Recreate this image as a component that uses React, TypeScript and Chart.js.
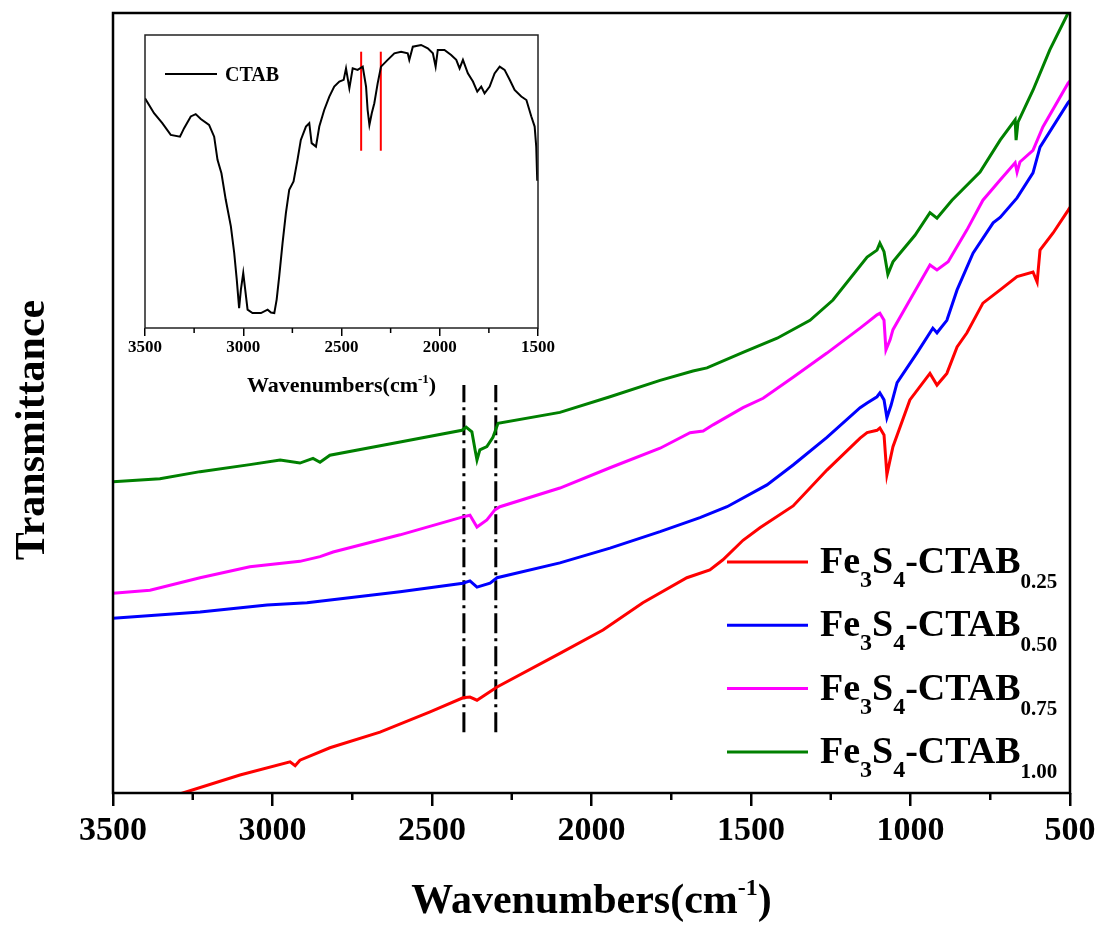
import React, { useEffect, useRef } from "react";
import { Chart, registerables } from "chart.js";

Chart.register(...registerables);

const FONT = "'Liberation Serif', 'Times New Roman', serif";

// ---- Main spectra (wavenumber cm-1, transmittance a.u.) ----
const wn025 = [3500, 3281, 3102, 2945, 2929, 2914, 2820, 2663, 2506, 2403, 2381, 2359, 2296, 2099, 1964, 1839, 1701, 1629, 1588, 1525, 1472, 1368, 1262, 1158, 1136, 1105, 1096, 1083, 1074, 1064, 1055, 1002, 939, 917, 886, 854, 823, 773, 719, 666, 616, 603, 594, 553, 506, 500];
const t025 = [-2.8, 0, 2.3, 4.0, 3.5, 4.2, 5.8, 7.8, 10.4, 12.2, 12.3, 11.9, 13.6, 17.9, 20.9, 24.4, 27.6, 28.6, 29.9, 32.4, 34.0, 36.8, 41.4, 45.5, 46.2, 46.5, 46.8, 45.9, 40.8, 42.7, 44.4, 50.4, 53.8, 52.3, 53.8, 57.2, 59.0, 62.8, 64.5, 66.2, 66.8, 65.5, 69.6, 71.8, 74.7, 75.1];

const wn050 = [3500, 3227, 3017, 2892, 2600, 2403, 2381, 2359, 2318, 2296, 2099, 1942, 1785, 1660, 1575, 1450, 1368, 1262, 1158, 1136, 1105, 1096, 1083, 1074, 1061, 1042, 980, 930, 917, 886, 854, 804, 741, 719, 666, 616, 594, 506, 500];
const t050 = [22.4, 23.2, 24.1, 24.4, 25.8, 26.9, 27.2, 26.4, 26.9, 27.6, 29.5, 31.4, 33.5, 35.3, 36.7, 39.5, 42.05, 45.6, 49.4, 50.0, 50.8, 51.3, 50.4, 48.1, 49.7, 52.6, 56.4, 59.6, 59.0, 60.6, 64.5, 69.2, 73.1, 73.8, 76.3, 79.5, 82.8, 88.5, 88.8];

const wn075 = [3500, 3384, 3227, 3071, 2914, 2851, 2810, 2600, 2403, 2381, 2359, 2328, 2303, 2287, 2099, 1942, 1785, 1691, 1650, 1619, 1525, 1462, 1368, 1262, 1158, 1136, 1105, 1096, 1083, 1077, 1064, 1055, 1002, 939, 917, 882, 823, 773, 719, 672, 666, 657, 616, 585, 506, 500];
const t075 = [25.6, 26.0, 27.6, 29.0, 29.7, 30.3, 30.9, 33.1, 35.4, 35.6, 34.1, 35.0, 36.3, 36.7, 39.1, 41.7, 44.2, 46.2, 46.4, 47.2, 49.4, 50.6, 53.3, 56.4, 59.6, 60.3, 61.3, 61.5, 60.6, 56.8, 58.1, 59.4, 63.2, 67.7, 67.05, 68.1, 72.2, 76.0, 78.6, 80.8, 79.6, 80.9, 82.4, 85.4, 91.0, 91.3];

const wn100 = [3500, 3353, 3227, 3071, 2976, 2914, 2873, 2851, 2820, 2600, 2406, 2393, 2375, 2365, 2359, 2350, 2328, 2309, 2293, 2099, 1942, 1785, 1682, 1638, 1525, 1418, 1315, 1243, 1136, 1105, 1096, 1083, 1071, 1055, 1033, 986, 939, 917, 870, 782, 719, 672, 669, 663, 616, 563, 506, 500];
const t100 = [39.9, 40.3, 41.2, 42.1, 42.7, 42.3, 42.9, 42.4, 43.3, 45.0, 46.5, 46.9, 46.3, 44.0, 42.7, 44.0, 44.4, 45.6, 47.4, 48.8, 50.8, 52.9, 54.1, 54.5, 56.5, 58.3, 60.6, 63.2, 68.7, 69.6, 70.5, 69.4, 66.5, 68.1, 69.2, 71.5, 74.4, 73.7, 76.0, 79.6, 83.7, 86.3, 83.7, 86.0, 90.1, 95.3, 100, 100.4];

// dash-dot marker lines
const markerWn = [2400, 2300];
const markerRange = [7.8, 52.3];

// ---- Inset: CTAB spectrum ----
const wnCTAB = [3500, 3454, 3412, 3369, 3322, 3301, 3267, 3242, 3216, 3174, 3148, 3131, 3111, 3089, 3063, 3046, 3033, 3021, 3012, 3000, 2992, 2978, 2953, 2910, 2876, 2859, 2842, 2830, 2817, 2800, 2783, 2766, 2744, 2724, 2707, 2681, 2664, 2652, 2630, 2613, 2588, 2562, 2537, 2511, 2489, 2477, 2460, 2443, 2418, 2392, 2375, 2367, 2358, 2346, 2333, 2316, 2299, 2265, 2231, 2197, 2163, 2155, 2137, 2095, 2061, 2035, 2021, 2010, 1976, 1942, 1916, 1899, 1882, 1857, 1831, 1809, 1789, 1772, 1746, 1721, 1695, 1670, 1644, 1619, 1585, 1559, 1534, 1517, 1509, 1504, 1500];
const tCTAB = [78.4, 73.3, 69.9, 65.9, 65.3, 68.2, 72.2, 73.0, 71.3, 69.3, 65.3, 57.4, 52.8, 43.75, 34.7, 25.6, 16.5, 6.8, 13.1, 18.75, 14.2, 6.25, 5.1, 5.1, 6.25, 5.3, 5.1, 9.7, 17.6, 29.0, 39.2, 47.2, 50.0, 57.4, 64.2, 68.75, 69.9, 63.1, 61.9, 68.75, 74.4, 79.0, 82.4, 84.1, 84.7, 88.6, 81.8, 88.6, 88.1, 89.2, 82.4, 74.4, 69.3, 73.3, 76.7, 83.5, 89.2, 91.5, 93.75, 94.3, 93.75, 91.5, 96.0, 96.6, 95.45, 93.75, 89.2, 94.9, 94.9, 93.2, 91.5, 88.6, 91.5, 86.9, 84.1, 80.7, 82.4, 80.1, 82.4, 86.9, 89.2, 88.1, 84.7, 81.25, 79.0, 77.8, 72.2, 68.75, 61.9, 50.6, 50.6];
const insetMarkerWn = [2400, 2300];
const insetMarkerRange = [60.5, 94.3];

// ---- Labels ----
const seriesColors = ["#FF0000", "#0000FF", "#FF00FF", "#008000"];
const seriesSubs = ["0.25", "0.50", "0.75", "1.00"];
const xTitleMain = "Wavenumbers(cm";
const xTitleSup = "-1";
const yTitle = "Transmittance";
const insetLegend = "CTAB";

const pts = (xs: number[], ys: number[]) => xs.map((x, i) => ({ x, y: ys[i] }));

type Part = { t: string; size: number; dy?: number };

function partsWidth(ctx: CanvasRenderingContext2D, parts: Part[]) {
  let w = 0;
  for (const p of parts) {
    ctx.font = `bold ${p.size}px ${FONT}`;
    w += ctx.measureText(p.t).width;
  }
  return w;
}

function drawParts(ctx: CanvasRenderingContext2D, x: number, y: number, parts: Part[]) {
  ctx.textAlign = "left";
  ctx.textBaseline = "alphabetic";
  ctx.fillStyle = "#000";
  let cx = x;
  for (const p of parts) {
    ctx.font = `bold ${p.size}px ${FONT}`;
    ctx.fillText(p.t, cx, y + (p.dy || 0));
    cx += ctx.measureText(p.t).width;
  }
}

function minorTicks(ctx: CanvasRenderingContext2D, chart: any, values: number[], len: number, lw: number) {
  const xs = chart.scales.x;
  const bottom = chart.chartArea.bottom;
  ctx.save();
  ctx.strokeStyle = "#000";
  ctx.lineWidth = lw;
  for (const v of values) {
    const px = xs.getPixelForValue(v);
    ctx.beginPath();
    ctx.moveTo(px, bottom);
    ctx.lineTo(px, bottom + len);
    ctx.stroke();
  }
  ctx.restore();
}

const mainDecor = {
  id: "mainDecor",
  afterDatasetsDraw(chart: any) {
    const { ctx, chartArea: a } = chart;
    ctx.save();
    ctx.strokeStyle = "#000";
    ctx.lineWidth = 2.5;
    ctx.strokeRect(a.left, a.top, a.right - a.left, a.bottom - a.top);
    ctx.restore();
  },
  afterDraw(chart: any) {
    const { ctx, chartArea: a } = chart;
    minorTicks(ctx, chart, [3250, 2750, 2250, 1750, 1250, 750], 7, 2.5);
    ctx.save();
    // x title
    const tparts: Part[] = [
      { t: xTitleMain, size: 42 },
      { t: xTitleSup, size: 24, dy: -18 },
      { t: ")", size: 42 },
    ];
    const w = partsWidth(ctx, tparts);
    drawParts(ctx, (a.left + a.right) / 2 - w / 2, 913, tparts);
    // y title
    ctx.save();
    ctx.translate(44, 430);
    ctx.rotate(-Math.PI / 2);
    ctx.font = `bold 42px ${FONT}`;
    ctx.textAlign = "center";
    ctx.textBaseline = "alphabetic";
    ctx.fillStyle = "#000";
    ctx.fillText(yTitle, 0, 0);
    ctx.restore();
    // legend
    seriesColors.forEach((c, i) => {
      const ly = 562 + i * 63.3;
      ctx.strokeStyle = c;
      ctx.lineWidth = 3;
      ctx.beginPath();
      ctx.moveTo(727, ly);
      ctx.lineTo(808, ly);
      ctx.stroke();
      drawParts(ctx, 820, ly + 11, [
        { t: "Fe", size: 38 },
        { t: "3", size: 24, dy: 14 },
        { t: "S", size: 38 },
        { t: "4", size: 24, dy: 14 },
        { t: "-CTAB", size: 38 },
        { t: seriesSubs[i], size: 21, dy: 15 },
      ]);
    });
    ctx.restore();
  },
};

const insetDecor = {
  id: "insetDecor",
  afterDatasetsDraw(chart: any) {
    const { ctx, chartArea: a } = chart;
    ctx.save();
    ctx.strokeStyle = "#222";
    ctx.lineWidth = 1.5;
    ctx.strokeRect(a.left, a.top, a.right - a.left, a.bottom - a.top);
    ctx.restore();
  },
  afterDraw(chart: any) {
    const { ctx, chartArea: a } = chart;
    minorTicks(ctx, chart, [3250, 2750, 2250, 1750], 5, 1.5);
    ctx.save();
    const tparts: Part[] = [
      { t: xTitleMain, size: 22 },
      { t: xTitleSup, size: 13, dy: -9 },
      { t: ")", size: 22 },
    ];
    const w = partsWidth(ctx, tparts);
    drawParts(ctx, (a.left + a.right) / 2 - w / 2, 392, tparts);
    // legend
    ctx.strokeStyle = "#000";
    ctx.lineWidth = 2;
    ctx.beginPath();
    ctx.moveTo(65, 74);
    ctx.lineTo(117, 74);
    ctx.stroke();
    drawParts(ctx, 125, 81, [{ t: insetLegend, size: 20 }]);
    ctx.restore();
  },
};

export default function App() {
  const mainRef = useRef<HTMLCanvasElement>(null);
  const insetRef = useRef<HTMLCanvasElement>(null);

  useEffect(() => {
    const line = (data: any, color: string, width: number, dash?: number[]) => ({
      data,
      borderColor: color,
      backgroundColor: color,
      borderWidth: width,
      pointRadius: 0,
      tension: 0,
      fill: false,
      borderDash: dash || [],
    });

    const markers = markerWn.map((w) =>
      line(markerRange.map((y) => ({ x: w, y })), "#000", 3, [20, 5, 3, 5])
    );

    const main = new Chart(mainRef.current!, {
      type: "line",
      data: {
        datasets: [
          line(pts(wn025, t025), seriesColors[0], 3),
          line(pts(wn050, t050), seriesColors[1], 3),
          line(pts(wn075, t075), seriesColors[2], 3),
          line(pts(wn100, t100), seriesColors[3], 3),
          ...markers,
        ],
      },
      options: {
        animation: false,
        responsive: false,
        devicePixelRatio: 1,
        layout: { padding: { left: 113, top: 13, right: 33, bottom: 0 } },
        plugins: { legend: { display: false }, tooltip: { enabled: false } },
        scales: {
          x: {
            type: "linear",
            reverse: true,
            min: 500,
            max: 3500,
            afterFit: (s: any) => {
              s.height = 132;
            },
            border: { display: false },
            grid: { drawOnChartArea: false, drawTicks: true, tickLength: 13, lineWidth: 2.5, color: "#000" },
            ticks: {
              stepSize: 500,
              padding: 5,
              color: "#000",
              maxRotation: 0,
              autoSkip: false,
              font: { family: FONT, size: 34, weight: "bold" },
              callback: (v: any) => String(v),
            },
          },
          y: { display: false, min: 0, max: 100 },
        },
      } as any,
      plugins: [mainDecor],
    });

    const insetMarkers = insetMarkerWn.map((w) =>
      line(insetMarkerRange.map((y) => ({ x: w, y })), "#FF0000", 2)
    );

    const inset = new Chart(insetRef.current!, {
      type: "line",
      data: {
        datasets: [line(pts(wnCTAB, tCTAB), "#000", 2), ...insetMarkers],
      },
      options: {
        animation: false,
        responsive: false,
        devicePixelRatio: 1,
        layout: { padding: { left: 45, top: 35, right: 42, bottom: 0 } },
        plugins: { legend: { display: false }, tooltip: { enabled: false } },
        scales: {
          x: {
            type: "linear",
            reverse: true,
            min: 1500,
            max: 3500,
            afterFit: (s: any) => {
              s.height = 82;
            },
            border: { display: false },
            grid: { drawOnChartArea: false, drawTicks: true, tickLength: 8, lineWidth: 1.5, color: "#000" },
            ticks: {
              stepSize: 500,
              padding: 1,
              color: "#000",
              maxRotation: 0,
              autoSkip: false,
              font: { family: FONT, size: 17, weight: "bold" },
              callback: (v: any) => String(v),
            },
          },
          y: { display: false, min: 0, max: 100 },
        },
      } as any,
      plugins: [insetDecor],
    });

    return () => {
      main.destroy();
      inset.destroy();
    };
  }, []);

  return (
    <div style={{ position: "fixed", left: 0, top: 0, width: 1103, height: 925, background: "#fff" }}>
      <canvas
        ref={mainRef}
        width={1103}
        height={925}
        style={{ position: "absolute", left: 0, top: 0, width: 1103, height: 925 }}
      />
      <canvas
        ref={insetRef}
        width={480}
        height={410}
        style={{ position: "absolute", left: 100, top: 0, width: 480, height: 410 }}
      />
    </div>
  );
}
